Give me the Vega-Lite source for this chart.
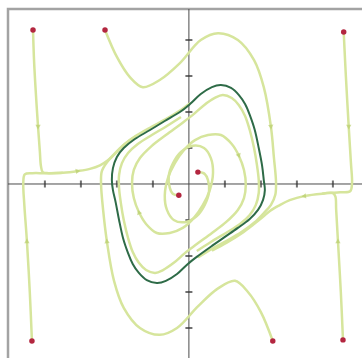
{
  "$schema": "https://vega.github.io/schema/vega-lite/v6.json",
  "width": 360,
  "height": 355,
  "autosize": {"type": "none"},
  "padding": {"left": 8, "top": 9, "right": 0, "bottom": 0},
  "background": "white",
  "config": {"view": {"stroke": "#a3a3a3", "strokeWidth": 2.5}},
  "datasets": {
    "traj": [
      {"id": "T1", "o": 1, "x": -4.33, "y": 4.28},
      {"id": "T1", "o": 2, "x": -4.3, "y": 3.4},
      {"id": "T1", "o": 3, "x": -4.25, "y": 2.5},
      {"id": "T1", "o": 4, "x": -4.19, "y": 1.58},
      {"id": "T1", "o": 5, "x": -4.14, "y": 0.9},
      {"id": "T1", "o": 6, "x": -4.11, "y": 0.5},
      {"id": "T1", "o": 7, "x": -4.06, "y": 0.33},
      {"id": "T1", "o": 8, "x": -3.9, "y": 0.3},
      {"id": "T1", "o": 9, "x": -3.5, "y": 0.31},

      {"id": "T2", "o": 1, "x": -4.36, "y": -4.36},
      {"id": "T2", "o": 2, "x": -4.42, "y": -3.0},
      {"id": "T2", "o": 3, "x": -4.5, "y": -1.58},
      {"id": "T2", "o": 4, "x": -4.57, "y": -0.6},
      {"id": "T2", "o": 5, "x": -4.6, "y": 0.05},
      {"id": "T2", "o": 6, "x": -4.56, "y": 0.27},
      {"id": "T2", "o": 7, "x": -4.35, "y": 0.3},
      {"id": "T2", "o": 8, "x": -4.0, "y": 0.3},
      {"id": "T2", "o": 9, "x": -3.5, "y": 0.31},
      {"id": "T2", "o": 10, "x": -3.08, "y": 0.36},
      {"id": "T2", "o": 11, "x": -2.75, "y": 0.42},
      {"id": "T2", "o": 12, "x": -2.47, "y": 0.52},
      {"id": "T2", "o": 13, "x": -2.25, "y": 0.66},
      {"id": "T2", "o": 14, "x": -2.05, "y": 0.86},
      {"id": "T2", "o": 15, "x": -1.8, "y": 1.1},
      {"id": "T2", "o": 16, "x": -1.45, "y": 1.35},
      {"id": "T2", "o": 17, "x": -1.05, "y": 1.58},
      {"id": "T2", "o": 18, "x": -0.64, "y": 1.8},
      {"id": "T2", "o": 19, "x": -0.25, "y": 2.04},
      {"id": "T2", "o": 20, "x": 0.05, "y": 2.26},

      {"id": "T3", "o": 1, "x": -2.33, "y": 4.28},
      {"id": "T3", "o": 2, "x": -2.0, "y": 3.53},
      {"id": "T3", "o": 3, "x": -1.64, "y": 2.97},
      {"id": "T3", "o": 4, "x": -1.28, "y": 2.69},
      {"id": "T3", "o": 5, "x": -0.81, "y": 2.89},
      {"id": "T3", "o": 6, "x": -0.25, "y": 3.36},
      {"id": "T3", "o": 7, "x": 0.33, "y": 4.0},
      {"id": "T3", "o": 8, "x": 0.81, "y": 4.19},
      {"id": "T3", "o": 9, "x": 1.36, "y": 4.0},
      {"id": "T3", "o": 10, "x": 1.81, "y": 3.44},
      {"id": "T3", "o": 11, "x": 2.08, "y": 2.69},
      {"id": "T3", "o": 12, "x": 2.28, "y": 1.58},
      {"id": "T3", "o": 13, "x": 2.36, "y": 0.75},
      {"id": "T3", "o": 14, "x": 2.42, "y": 0.05},
      {"id": "T3", "o": 15, "x": 2.4, "y": -0.3},
      {"id": "T3", "o": 16, "x": 2.28, "y": -0.58},
      {"id": "T3", "o": 17, "x": 2.07, "y": -0.82},
      {"id": "T3", "o": 18, "x": 1.82, "y": -1.07},
      {"id": "T3", "o": 19, "x": 1.47, "y": -1.33},
      {"id": "T3", "o": 20, "x": 1.05, "y": -1.58},
      {"id": "T3", "o": 21, "x": 0.64, "y": -1.8},
      {"id": "T3", "o": 22, "x": 0.25, "y": -2.04},

      {"id": "T4", "o": 1, "x": 4.3, "y": 4.22},
      {"id": "T4", "o": 2, "x": 4.36, "y": 3.0},
      {"id": "T4", "o": 3, "x": 4.44, "y": 1.58},
      {"id": "T4", "o": 4, "x": 4.5, "y": 0.6},
      {"id": "T4", "o": 5, "x": 4.53, "y": 0.0},
      {"id": "T4", "o": 6, "x": 4.48, "y": -0.2},
      {"id": "T4", "o": 7, "x": 4.2, "y": -0.23},
      {"id": "T4", "o": 8, "x": 3.8, "y": -0.26},
      {"id": "T4", "o": 9, "x": 3.22, "y": -0.33},
      {"id": "T4", "o": 10, "x": 2.8, "y": -0.45},
      {"id": "T4", "o": 11, "x": 2.5, "y": -0.6},
      {"id": "T4", "o": 12, "x": 2.25, "y": -0.75},
      {"id": "T4", "o": 13, "x": 2.05, "y": -0.92},
      {"id": "T4", "o": 14, "x": 1.8, "y": -1.12},
      {"id": "T4", "o": 15, "x": 1.45, "y": -1.38},
      {"id": "T4", "o": 16, "x": 1.05, "y": -1.63},
      {"id": "T4", "o": 17, "x": 0.64, "y": -1.85},

      {"id": "T5", "o": 1, "x": 4.28, "y": -4.33},
      {"id": "T5", "o": 2, "x": 4.22, "y": -3.0},
      {"id": "T5", "o": 3, "x": 4.14, "y": -1.58},
      {"id": "T5", "o": 4, "x": 4.09, "y": -0.7},
      {"id": "T5", "o": 5, "x": 4.07, "y": -0.35},
      {"id": "T5", "o": 6, "x": 4.0, "y": -0.25},
      {"id": "T5", "o": 7, "x": 3.7, "y": -0.27},

      {"id": "T6", "o": 1, "x": 2.33, "y": -4.36},
      {"id": "T6", "o": 2, "x": 2.0, "y": -3.56},
      {"id": "T6", "o": 3, "x": 1.64, "y": -3.0},
      {"id": "T6", "o": 4, "x": 1.28, "y": -2.69},
      {"id": "T6", "o": 5, "x": 0.81, "y": -2.9},
      {"id": "T6", "o": 6, "x": 0.25, "y": -3.4},
      {"id": "T6", "o": 7, "x": -0.33, "y": -4.0},
      {"id": "T6", "o": 8, "x": -0.81, "y": -4.19},
      {"id": "T6", "o": 9, "x": -1.36, "y": -4.0},
      {"id": "T6", "o": 10, "x": -1.81, "y": -3.44},
      {"id": "T6", "o": 11, "x": -2.08, "y": -2.69},
      {"id": "T6", "o": 12, "x": -2.28, "y": -1.58},
      {"id": "T6", "o": 13, "x": -2.38, "y": -0.75},
      {"id": "T6", "o": 14, "x": -2.44, "y": 0.0},
      {"id": "T6", "o": 15, "x": -2.42, "y": 0.35},
      {"id": "T6", "o": 16, "x": -2.28, "y": 0.6},
      {"id": "T6", "o": 17, "x": -2.07, "y": 0.82},
      {"id": "T6", "o": 18, "x": -1.82, "y": 1.07},
      {"id": "T6", "o": 19, "x": -1.47, "y": 1.33},

      {"id": "S1", "o": 1, "x": 0.25, "y": 0.33},
      {"id": "S1", "o": 2, "x": 0.44, "y": 0.28},
      {"id": "S1", "o": 3, "x": 0.53, "y": 0.11},
      {"id": "S1", "o": 4, "x": 0.56, "y": -0.22},
      {"id": "S1", "o": 5, "x": 0.44, "y": -0.58},
      {"id": "S1", "o": 6, "x": 0.22, "y": -0.89},
      {"id": "S1", "o": 7, "x": -0.11, "y": -1.06},
      {"id": "S1", "o": 8, "x": -0.42, "y": -1.0},
      {"id": "S1", "o": 9, "x": -0.61, "y": -0.72},
      {"id": "S1", "o": 10, "x": -0.67, "y": -0.31},
      {"id": "S1", "o": 11, "x": -0.58, "y": 0.17},
      {"id": "S1", "o": 12, "x": -0.39, "y": 0.58},
      {"id": "S1", "o": 13, "x": -0.14, "y": 0.94},
      {"id": "S1", "o": 14, "x": 0.17, "y": 1.22},
      {"id": "S1", "o": 15, "x": 0.53, "y": 1.36},
      {"id": "S1", "o": 16, "x": 0.89, "y": 1.36},
      {"id": "S1", "o": 17, "x": 1.19, "y": 1.11},
      {"id": "S1", "o": 18, "x": 1.39, "y": 0.78},
      {"id": "S1", "o": 19, "x": 1.53, "y": 0.39},
      {"id": "S1", "o": 20, "x": 1.58, "y": -0.03},
      {"id": "S1", "o": 21, "x": 1.53, "y": -0.39},
      {"id": "S1", "o": 22, "x": 1.36, "y": -0.72},
      {"id": "S1", "o": 23, "x": 1.03, "y": -1.06},
      {"id": "S1", "o": 24, "x": 0.64, "y": -1.36},
      {"id": "S1", "o": 25, "x": 0.22, "y": -1.67},
      {"id": "S1", "o": 26, "x": -0.11, "y": -1.92},
      {"id": "S1", "o": 27, "x": -0.42, "y": -2.19},
      {"id": "S1", "o": 28, "x": -0.72, "y": -2.39},
      {"id": "S1", "o": 29, "x": -0.94, "y": -2.47},
      {"id": "S1", "o": 30, "x": -1.19, "y": -2.39},
      {"id": "S1", "o": 31, "x": -1.39, "y": -2.19},
      {"id": "S1", "o": 32, "x": -1.56, "y": -1.89},
      {"id": "S1", "o": 33, "x": -1.69, "y": -1.5},
      {"id": "S1", "o": 34, "x": -1.81, "y": -1.0},
      {"id": "S1", "o": 35, "x": -1.89, "y": -0.53},
      {"id": "S1", "o": 36, "x": -1.94, "y": -0.11},
      {"id": "S1", "o": 37, "x": -1.94, "y": 0.25},
      {"id": "S1", "o": 38, "x": -1.86, "y": 0.58},
      {"id": "S1", "o": 39, "x": -1.69, "y": 0.86},
      {"id": "S1", "o": 40, "x": -1.42, "y": 1.11},
      {"id": "S1", "o": 41, "x": -1.03, "y": 1.36},
      {"id": "S1", "o": 42, "x": -0.61, "y": 1.61},
      {"id": "S1", "o": 43, "x": -0.22, "y": 1.86},

      {"id": "S2", "o": 1, "x": -0.28, "y": -0.31},
      {"id": "S2", "o": 2, "x": -0.44, "y": -0.28},
      {"id": "S2", "o": 3, "x": -0.53, "y": -0.11},
      {"id": "S2", "o": 4, "x": -0.56, "y": 0.22},
      {"id": "S2", "o": 5, "x": -0.44, "y": 0.58},
      {"id": "S2", "o": 6, "x": -0.22, "y": 0.89},
      {"id": "S2", "o": 7, "x": 0.11, "y": 1.06},
      {"id": "S2", "o": 8, "x": 0.42, "y": 1.0},
      {"id": "S2", "o": 9, "x": 0.61, "y": 0.72},
      {"id": "S2", "o": 10, "x": 0.67, "y": 0.31},
      {"id": "S2", "o": 11, "x": 0.58, "y": -0.17},
      {"id": "S2", "o": 12, "x": 0.39, "y": -0.58},
      {"id": "S2", "o": 13, "x": 0.14, "y": -0.94},
      {"id": "S2", "o": 14, "x": -0.17, "y": -1.22},
      {"id": "S2", "o": 15, "x": -0.53, "y": -1.36},
      {"id": "S2", "o": 16, "x": -0.89, "y": -1.36},
      {"id": "S2", "o": 17, "x": -1.19, "y": -1.11},
      {"id": "S2", "o": 18, "x": -1.39, "y": -0.78},
      {"id": "S2", "o": 19, "x": -1.53, "y": -0.39},
      {"id": "S2", "o": 20, "x": -1.58, "y": 0.03},
      {"id": "S2", "o": 21, "x": -1.53, "y": 0.39},
      {"id": "S2", "o": 22, "x": -1.36, "y": 0.72},
      {"id": "S2", "o": 23, "x": -1.03, "y": 1.06},
      {"id": "S2", "o": 24, "x": -0.64, "y": 1.36},
      {"id": "S2", "o": 25, "x": -0.22, "y": 1.67},
      {"id": "S2", "o": 26, "x": 0.11, "y": 1.92},
      {"id": "S2", "o": 27, "x": 0.42, "y": 2.19},
      {"id": "S2", "o": 28, "x": 0.72, "y": 2.39},
      {"id": "S2", "o": 29, "x": 0.94, "y": 2.47},
      {"id": "S2", "o": 30, "x": 1.19, "y": 2.39},
      {"id": "S2", "o": 31, "x": 1.39, "y": 2.19},
      {"id": "S2", "o": 32, "x": 1.56, "y": 1.89},
      {"id": "S2", "o": 33, "x": 1.69, "y": 1.5},
      {"id": "S2", "o": 34, "x": 1.81, "y": 1.0},
      {"id": "S2", "o": 35, "x": 1.89, "y": 0.53},
      {"id": "S2", "o": 36, "x": 1.94, "y": 0.11},
      {"id": "S2", "o": 37, "x": 1.94, "y": -0.25},
      {"id": "S2", "o": 38, "x": 1.86, "y": -0.58},
      {"id": "S2", "o": 39, "x": 1.69, "y": -0.86},
      {"id": "S2", "o": 40, "x": 1.42, "y": -1.11},
      {"id": "S2", "o": 41, "x": 1.03, "y": -1.36},
      {"id": "S2", "o": 42, "x": 0.61, "y": -1.61},
      {"id": "S2", "o": 43, "x": 0.22, "y": -1.86}
    ],
    "cycle": [
      {"o": 1, "x": -2.14, "y": 0.11},
      {"o": 2, "x": -2.11, "y": 0.44},
      {"o": 3, "x": -2.0, "y": 0.75},
      {"o": 4, "x": -1.81, "y": 1.0},
      {"o": 5, "x": -1.5, "y": 1.25},
      {"o": 6, "x": -1.08, "y": 1.5},
      {"o": 7, "x": -0.67, "y": 1.75},
      {"o": 8, "x": -0.25, "y": 2.0},
      {"o": 9, "x": 0.03, "y": 2.22},
      {"o": 10, "x": 0.33, "y": 2.5},
      {"o": 11, "x": 0.64, "y": 2.69},
      {"o": 12, "x": 0.89, "y": 2.75},
      {"o": 13, "x": 1.17, "y": 2.67},
      {"o": 14, "x": 1.39, "y": 2.47},
      {"o": 15, "x": 1.56, "y": 2.22},
      {"o": 16, "x": 1.69, "y": 1.92},
      {"o": 17, "x": 1.83, "y": 1.5},
      {"o": 18, "x": 1.94, "y": 1.0},
      {"o": 19, "x": 2.03, "y": 0.53},
      {"o": 20, "x": 2.08, "y": 0.11},
      {"o": 21, "x": 2.11, "y": -0.17},
      {"o": 22, "x": 2.06, "y": -0.44},
      {"o": 23, "x": 1.92, "y": -0.72},
      {"o": 24, "x": 1.69, "y": -0.97},
      {"o": 25, "x": 1.36, "y": -1.22},
      {"o": 26, "x": 1.0, "y": -1.47},
      {"o": 27, "x": 0.64, "y": -1.72},
      {"o": 28, "x": 0.25, "y": -2.0},
      {"o": 29, "x": -0.03, "y": -2.22},
      {"o": 30, "x": -0.33, "y": -2.5},
      {"o": 31, "x": -0.64, "y": -2.69},
      {"o": 32, "x": -0.89, "y": -2.75},
      {"o": 33, "x": -1.17, "y": -2.67},
      {"o": 34, "x": -1.39, "y": -2.47},
      {"o": 35, "x": -1.56, "y": -2.22},
      {"o": 36, "x": -1.69, "y": -1.92},
      {"o": 37, "x": -1.83, "y": -1.5},
      {"o": 38, "x": -1.94, "y": -1.0},
      {"o": 39, "x": -2.03, "y": -0.53},
      {"o": 40, "x": -2.11, "y": -0.17}
    ],
    "pts": [
      {"x": -4.33, "y": 4.28},
      {"x": -2.33, "y": 4.28},
      {"x": 4.3, "y": 4.22},
      {"x": -4.36, "y": -4.36},
      {"x": 2.33, "y": -4.36},
      {"x": 4.28, "y": -4.33},
      {"x": 0.25, "y": 0.33},
      {"x": -0.28, "y": -0.31}
    ],
    "arrows": [
      {"x": -4.19, "y": 1.58, "dir": 180},
      {"x": -4.5, "y": -1.58, "dir": 0},
      {"x": -3.08, "y": 0.36, "dir": 80},
      {"x": 3.19, "y": -0.34, "dir": 262},
      {"x": 2.28, "y": 1.58, "dir": 175},
      {"x": -2.28, "y": -1.58, "dir": 355},
      {"x": 1.39, "y": 0.78, "dir": 160},
      {"x": -1.39, "y": -0.78, "dir": 340},
      {"x": 4.44, "y": 1.58, "dir": 180},
      {"x": 4.14, "y": -1.58, "dir": 0}
    ],
    "axes": [
      {"x1": -5.025, "x2": 4.975, "y1": 0, "y2": 0},
      {"x1": 0, "x2": 0, "y1": -5.0, "y2": 4.861}
    ],
    "ticks": [
      {"t": -4}, {"t": -3}, {"t": -2}, {"t": -1},
      {"t": 1}, {"t": 2}, {"t": 3}, {"t": 4}
    ]
  },
  "layer": [
    {
      "data": {"name": "axes"},
      "mark": {"type": "rule", "color": "#4a4a4a", "strokeWidth": 1},
      "encoding": {
        "x": {"field": "x1", "type": "quantitative", "scale": {"domain": [-5.025, 4.975], "nice": false, "zero": false}, "axis": null},
        "x2": {"field": "x2"},
        "y": {"field": "y1", "type": "quantitative", "scale": {"domain": [-5.0, 4.861], "nice": false, "zero": false}, "axis": null},
        "y2": {"field": "y2"}
      }
    },
    {
      "data": {"name": "ticks"},
      "mark": {"type": "tick", "orient": "vertical", "size": 7, "thickness": 2, "color": "#333333"},
      "encoding": {
        "x": {"field": "t", "type": "quantitative", "scale": {"domain": [-5.025, 4.975], "nice": false, "zero": false}, "axis": null},
        "y": {"datum": 0, "type": "quantitative", "scale": {"domain": [-5.0, 4.861], "nice": false, "zero": false}, "axis": null}
      }
    },
    {
      "data": {"name": "ticks"},
      "mark": {"type": "tick", "orient": "horizontal", "size": 7, "thickness": 2, "color": "#333333"},
      "encoding": {
        "y": {"field": "t", "type": "quantitative", "scale": {"domain": [-5.0, 4.861], "nice": false, "zero": false}, "axis": null},
        "x": {"datum": 0, "type": "quantitative", "scale": {"domain": [-5.025, 4.975], "nice": false, "zero": false}, "axis": null}
      }
    },
    {
      "data": {"name": "traj"},
      "mark": {"type": "line", "interpolate": "catmull-rom", "color": "#d6e59c", "strokeWidth": 2.5},
      "encoding": {
        "x": {"field": "x", "type": "quantitative", "scale": {"domain": [-5.025, 4.975], "nice": false, "zero": false}, "axis": null},
        "y": {"field": "y", "type": "quantitative", "scale": {"domain": [-5.0, 4.861], "nice": false, "zero": false}, "axis": null},
        "detail": {"field": "id"},
        "order": {"field": "o"}
      }
    },
    {
      "data": {"name": "cycle"},
      "mark": {"type": "line", "interpolate": "cardinal-closed", "color": "#2e6b47", "strokeWidth": 2},
      "encoding": {
        "x": {"field": "x", "type": "quantitative", "scale": {"domain": [-5.025, 4.975], "nice": false, "zero": false}, "axis": null},
        "y": {"field": "y", "type": "quantitative", "scale": {"domain": [-5.0, 4.861], "nice": false, "zero": false}, "axis": null},
        "order": {"field": "o"}
      }
    },
    {
      "data": {"name": "arrows"},
      "mark": {"type": "point", "shape": "triangle-up", "filled": true, "color": "#b9cf6e", "size": 28},
      "encoding": {
        "x": {"field": "x", "type": "quantitative", "scale": {"domain": [-5.025, 4.975], "nice": false, "zero": false}, "axis": null},
        "y": {"field": "y", "type": "quantitative", "scale": {"domain": [-5.0, 4.861], "nice": false, "zero": false}, "axis": null},
        "angle": {"field": "dir", "type": "quantitative", "scale": null}
      }
    },
    {
      "data": {"name": "pts"},
      "mark": {"type": "point", "shape": "circle", "filled": true, "color": "#b3263f", "size": 30, "opacity": 1},
      "encoding": {
        "x": {"field": "x", "type": "quantitative", "scale": {"domain": [-5.025, 4.975], "nice": false, "zero": false}, "axis": null},
        "y": {"field": "y", "type": "quantitative", "scale": {"domain": [-5.0, 4.861], "nice": false, "zero": false}, "axis": null}
      }
    }
  ]
}
